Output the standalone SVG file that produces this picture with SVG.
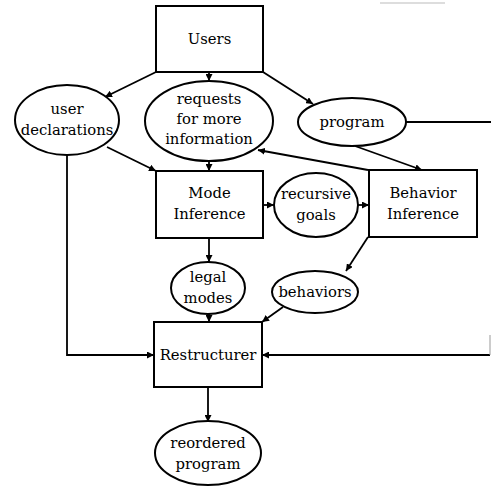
<svg xmlns="http://www.w3.org/2000/svg" width="491" height="488" viewBox="0 0 491 488">
<defs>
<style>
.box{fill:#fff;stroke:#000;stroke-width:2}
.ell{fill:#fff;stroke:#000;stroke-width:2}
.c{fill:none;stroke:#000;stroke-width:1.8}
</style>
<marker id="ah" viewBox="0 0 10 10" refX="10" refY="5" markerWidth="7" markerHeight="7" markerUnits="userSpaceOnUse" orient="auto">
<path d="M0,0 L10,5 L0,10 z" fill="#000"/>
</marker>
</defs>
<rect width="491" height="488" fill="#fff"/>
<line x1="380" y1="3" x2="445" y2="3" stroke="#bbb" stroke-width="1"/>
<g id="connectors">
<line class="c" x1="156" y1="72" x2="105" y2="97" marker-end="url(#ah)"/>
<line class="c" x1="209" y1="72" x2="209" y2="81" marker-end="url(#ah)"/>
<line class="c" x1="263" y1="72" x2="313" y2="104" marker-end="url(#ah)"/>
<line class="c" x1="406" y1="122" x2="491" y2="122"/>
<line class="c" x1="107" y1="147" x2="156" y2="171" marker-end="url(#ah)"/>
<line class="c" x1="209" y1="162" x2="209" y2="171" marker-end="url(#ah)"/>
<line class="c" x1="368" y1="170" x2="258" y2="150" marker-end="url(#ah)"/>
<line class="c" x1="355" y1="146" x2="422" y2="170" marker-end="url(#ah)"/>
<line class="c" x1="263" y1="205" x2="274" y2="205" marker-end="url(#ah)"/>
<line class="c" x1="358" y1="205" x2="369" y2="205" marker-end="url(#ah)"/>
<line class="c" x1="209" y1="238" x2="209" y2="262" marker-end="url(#ah)"/>
<line class="c" x1="368" y1="237" x2="346" y2="271" marker-end="url(#ah)"/>
<line class="c" x1="209" y1="314" x2="209" y2="322" marker-end="url(#ah)"/>
<line class="c" x1="283" y1="307" x2="262" y2="322" marker-end="url(#ah)"/>
<polyline class="c" points="67,155 67,355 154,355" marker-end="url(#ah)"/>
<line class="c" x1="490" y1="355" x2="262" y2="355" marker-end="url(#ah)"/>
<line x1="490" y1="335" x2="490" y2="355" stroke="#999" stroke-width="1"/>
<line class="c" x1="208" y1="387" x2="208" y2="422" marker-end="url(#ah)"/>
</g>
<g font-family="DejaVu Serif, Liberation Serif, serif" font-size="14.8" text-anchor="middle" fill="#000">
<g id="users"><rect class="box" x="156" y="6" width="107" height="66"/><text x="209.5" y="44">Users</text></g>
<g id="user-declarations"><ellipse class="ell" cx="67" cy="120" rx="52" ry="35"/><text x="67" y="114">user</text><text x="67" y="135">declarations</text></g>
<g id="requests"><ellipse class="ell" cx="209" cy="121" rx="64" ry="40"/><text x="209" y="104">requests</text><text x="209" y="124">for more</text><text x="209" y="144">information</text></g>
<g id="program"><ellipse class="ell" cx="352" cy="122" rx="54" ry="24"/><text x="352" y="127">program</text></g>
<g id="mode-inference"><rect class="box" x="156" y="171" width="107" height="67"/><text x="209.5" y="198">Mode</text><text x="209.5" y="219">Inference</text></g>
<g id="recursive-goals"><ellipse class="ell" cx="316" cy="205" rx="42" ry="32"/><text x="316" y="199">recursive</text><text x="316" y="220">goals</text></g>
<g id="behavior-inference"><rect class="box" x="369" y="170" width="108" height="67"/><text x="423" y="198">Behavior</text><text x="423" y="219">Inference</text></g>
<g id="legal-modes"><ellipse class="ell" cx="208" cy="288" rx="37" ry="26"/><text x="208" y="282">legal</text><text x="208" y="303">modes</text></g>
<g id="behaviors"><ellipse class="ell" cx="315" cy="292" rx="43" ry="21"/><text x="315" y="297">behaviors</text></g>
<g id="restructurer"><rect class="box" x="154" y="322" width="108" height="65"/><text x="208" y="360">Restructurer</text></g>
<g id="reordered-program"><ellipse class="ell" cx="208" cy="453" rx="53" ry="32"/><text x="208" y="448">reordered</text><text x="208" y="469">program</text></g>
</g>
</svg>
